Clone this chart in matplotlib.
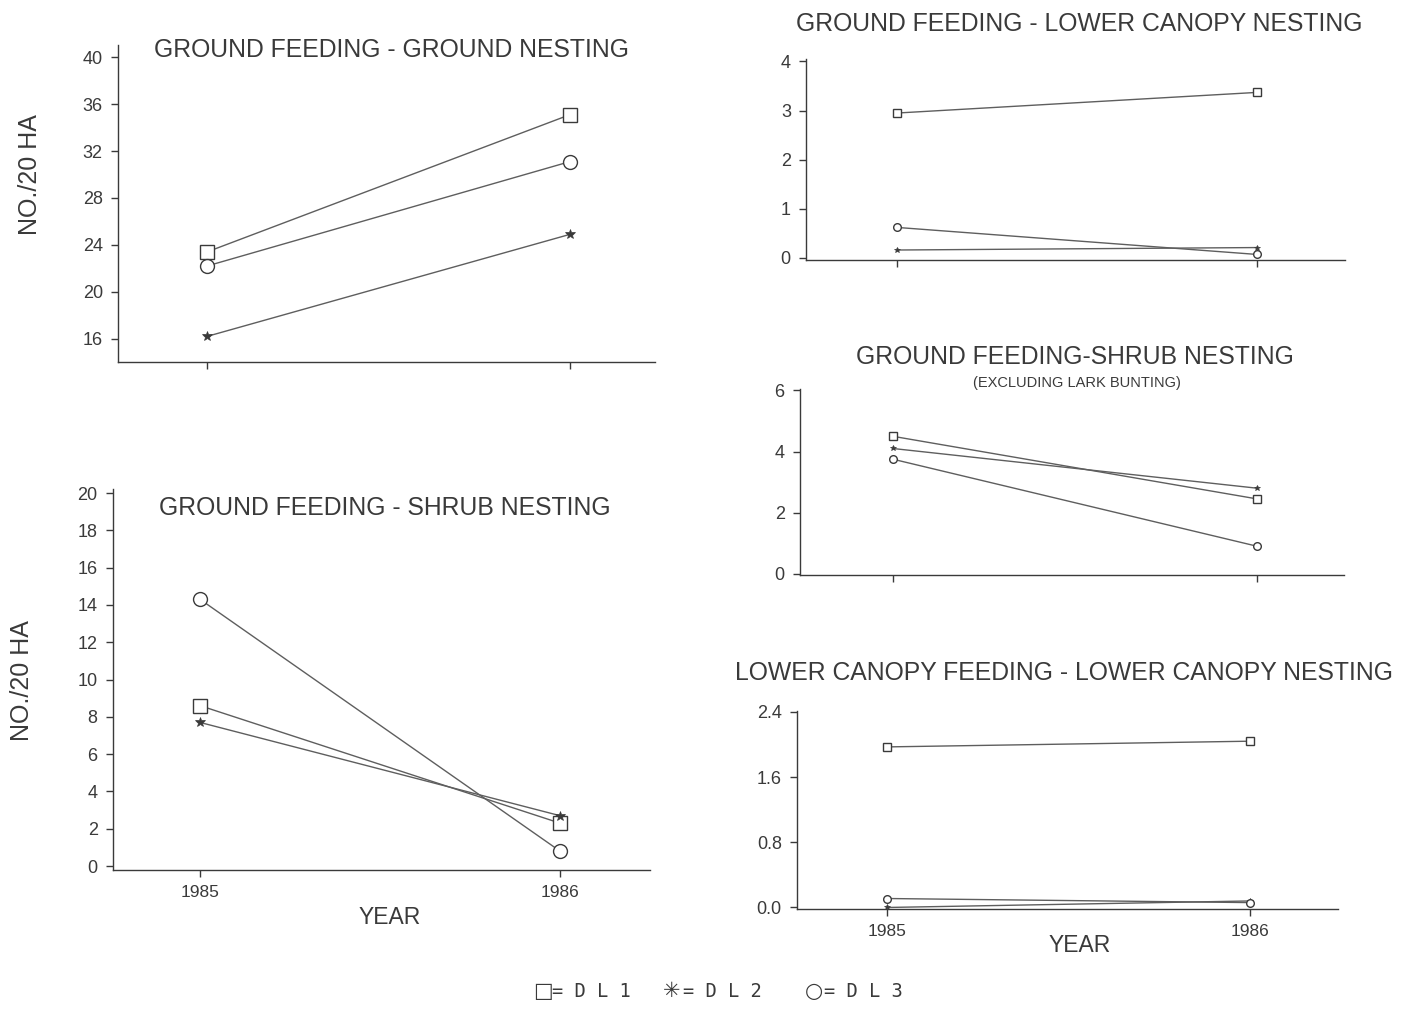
import matplotlib
matplotlib.use("Agg")
import matplotlib.pyplot as plt

# data (1985, 1986)
years = ["1985", "1986"]
series_names = ["DL1", "DL2", "DL3"]

gg_dl1 = [23.4, 35.1]
gg_dl2 = [16.2, 24.9]
gg_dl3 = [22.2, 31.1]

glc_dl1 = [2.95, 3.37]
glc_dl2 = [0.16, 0.21]
glc_dl3 = [0.62, 0.07]

gs_dl1 = [8.6, 2.3]
gs_dl2 = [7.7, 2.7]
gs_dl3 = [14.3, 0.8]

gsx_dl1 = [4.5, 2.45]
gsx_dl2 = [4.1, 2.8]
gsx_dl3 = [3.75, 0.9]

lcl_dl1 = [1.97, 2.04]
lcl_dl2 = [0.0, 0.08]
lcl_dl3 = [0.11, 0.06]

INK = "#3a3a3a"
LINE = "#5e5e5e"
SANS = ["Liberation Sans", "DejaVu Sans"]

plt.rcParams["font.family"] = SANS

fig = plt.figure(figsize=(14.02, 10.09), dpi=100)


def panel(rect, dl1, dl2, dl3, ylim, yticks, xlim, fmt="{:g}", msize=8, show_years=False):
    ax = fig.add_axes(rect)
    x = range(len(years))
    ax.plot(x, dl1, color=LINE, lw=1.0, marker="s", ms=msize, mfc="white", mec=INK, mew=1.0, zorder=3)
    ax.plot(x, dl2, color=LINE, lw=1.0, marker="*", ms=msize * 0.7, mfc=INK, mec=INK, mew=0.5, zorder=3)
    ax.plot(x, dl3, color=LINE, lw=1.0, marker="o", ms=msize, mfc="white", mec=INK, mew=1.0, zorder=3)
    ax.set_ylim(*ylim)
    ax.set_xlim(*xlim)
    ax.set_yticks(yticks)
    ax.set_yticklabels([fmt.format(t) for t in yticks], fontsize=13, color=INK)
    ax.set_xticks(list(x))
    if show_years:
        ax.set_xticklabels(years, fontsize=12.5, color=INK)
    else:
        ax.set_xticklabels([])
    for s in ["top", "right"]:
        ax.spines[s].set_visible(False)
    for s in ["left", "bottom"]:
        ax.spines[s].set_color(INK)
        ax.spines[s].set_linewidth(1.0)
    ax.tick_params(axis="both", direction="out", length=5, width=1.0, color=INK, pad=6)
    ax.patch.set_alpha(0)
    return ax


# top-left: ground feeding - ground nesting
panel([0.0842, 0.641, 0.383, 0.314], gg_dl1, gg_dl2, gg_dl3,
      (14.0, 41.0), [16, 20, 24, 28, 32, 36, 40], (-0.245, 1.234), msize=10)

# bottom-left: ground feeding - shrub nesting
panel([0.0806, 0.138, 0.383, 0.377], gs_dl1, gs_dl2, gs_dl3,
      (-0.2, 20.2), list(range(0, 21, 2)), (-0.242, 1.25), msize=10, show_years=True)

# top-right: ground feeding - lower canopy nesting
panel([0.575, 0.742, 0.384, 0.1995], glc_dl1, glc_dl2, glc_dl3,
      (-0.05, 4.05), [0, 1, 2, 3, 4], (-0.253, 1.244), msize=5.5)

# middle-right: ground feeding - shrub nesting (excl. lark bunting)
panel([0.5706, 0.430, 0.388, 0.1845], gsx_dl1, gsx_dl2, gsx_dl3,
      (-0.05, 6.05), [0, 2, 4, 6], (-0.255, 1.24), msize=5.5)

# bottom-right: lower canopy feeding - lower canopy nesting
panel([0.5685, 0.099, 0.3855, 0.1963], lcl_dl1, lcl_dl2, lcl_dl3,
      (-0.02, 2.41), [0.0, 0.8, 1.6, 2.4], (-0.248, 1.242), fmt="{:.1f}", msize=5.5, show_years=True)

# titles
TS = 17.8
fig.text(0.279, 0.950, "GROUND FEEDING - GROUND NESTING", ha="center", va="center", fontsize=TS, color=INK)
fig.text(0.770, 0.976, "GROUND FEEDING - LOWER CANOPY NESTING", ha="center", va="center", fontsize=TS, color=INK)
fig.text(0.767, 0.646, "GROUND FEEDING-SHRUB NESTING", ha="center", va="center", fontsize=TS, color=INK)
fig.text(0.768, 0.620, "(EXCLUDING LARK BUNTING)", ha="center", va="center", fontsize=10.5, color=INK)
fig.text(0.759, 0.333, "LOWER CANOPY FEEDING - LOWER CANOPY NESTING", ha="center", va="center", fontsize=TS, color=INK)
fig.text(0.2746, 0.4965, "GROUND FEEDING - SHRUB NESTING", ha="center", va="center", fontsize=TS, color=INK)

# axis labels
fig.text(0.0214, 0.8266, "NO./20 HA", rotation=90, ha="center", va="center", fontsize=18, color=INK)
fig.text(0.0157, 0.326, "NO./20 HA", rotation=90, ha="center", va="center", fontsize=18, color=INK)
fig.text(0.278, 0.091, "YEAR", ha="center", va="center", fontsize=16.5, color=INK)
fig.text(0.770, 0.063, "YEAR", ha="center", va="center", fontsize=16.5, color=INK)

# key at the bottom: symbol, then the label
MONO = ["DejaVu Sans Mono", "DejaVu Sans"]
key_sym_x = [0.380, 0.473, 0.574]
key_lab_x = [0.394, 0.487, 0.588]
key_sym = ["\u25a1", "\u2733", "\u25cb"]
key_lab = ["= D L 1", "= D L 2", "= D L 3"]
for sx, sym, lx, lab in zip(key_sym_x, key_sym, key_lab_x, key_lab):
    fig.text(sx, 0.018, sym, ha="left", va="center", fontsize=15, color=INK, family=["DejaVu Sans"])
    fig.text(lx, 0.017, lab, ha="left", va="center", fontsize=13.5, color=INK, family=MONO)

fig.savefig("out.png", dpi=100, facecolor="white")
